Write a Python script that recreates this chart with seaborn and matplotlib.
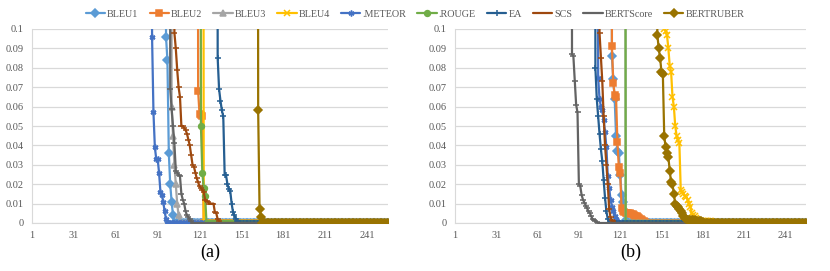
import numpy as np
import pandas as pd
import matplotlib
matplotlib.use("Agg")
import matplotlib.pyplot as plt
import seaborn as sns

N_POINTS = 256
X_TICKS = [1, 31, 61, 91, 121, 151, 181, 211, 241]
Y_TICKS = [0, 0.01, 0.02, 0.03, 0.04, 0.05, 0.06, 0.07, 0.08, 0.09, 0.1]
Y_TICK_LABELS = ["0", "0.01", "0.02", "0.03", "0.04", "0.05", "0.06", "0.07", "0.08", "0.09", "0.1"]

SERIES = ["BLEU1", "BLEU2", "BLEU3", "BLEU4", ".METEOR", ".ROUGE", "EA", "SCS", "BERTScore", "BERTRUBER"]
COLORS = ["#5B9BD5", "#ED7D31", "#A5A5A5", "#FFC000", "#4472C4",
          "#70AD47", "#255E91", "#9E480E", "#636363", "#997300"]
MARKERS = ["D", "s", "^", "x", (6, 2, 0), "o", "+", "_", "_", "D"]

# each series: index of first visible point, visible values (before: off-scale, after: 0)
A_START = [97, 120, 101, 124, 87, 122, 134, 103, 100, 163]
A_BLEU1 = [0.096, 0.084, 0.036, 0.020, 0.011, 0.004]
A_BLEU2 = [0.068, 0.056, 0.0555, 0.055]
A_BLEU3 = [0.060, 0.045, 0.030, 0.020, 0.010, 0.004]
A_BLEU4 = []
A_METEOR = [0.096, 0.057, 0.039, 0.033, 0.033, 0.026, 0.016, 0.0145, 0.011, 0.006, 0.002]
A_ROUGE = [0.050, 0.026, 0.018, 0.014]
A_EA = [0.085, 0.069, 0.063, 0.058, 0.055, 0.025, 0.0245, 0.020, 0.0175, 0.0165,
        0.010, 0.0055, 0.004, 0.002, 0.001]
A_SCS = [0.098, 0.090, 0.079, 0.070, 0.065, 0.050, 0.050, 0.049, 0.048, 0.046,
         0.043, 0.040, 0.035, 0.030, 0.029, 0.026, 0.023, 0.021, 0.019, 0.018,
         0.017, 0.016, 0.012, 0.0115, 0.011, 0.010, 0.010, 0.010, 0.010, 0.0055,
         0.005, 0.002, 0.001]
A_BERTSCORE = [0.069, 0.059, 0.050, 0.041, 0.027, 0.026, 0.025, 0.024, 0.015, 0.012,
               0.010, 0.006, 0.004, 0.003, 0.002, 0.001]
A_BERTRUBER = [0.058, 0.007, 0.003]

B_START = [115, 115, 125, 153, 105, 125, 103, 106, 86, 148]
B_BLEU1 = [0.086, 0.074, 0.064, 0.045, 0.037, 0.036, 0.025, 0.0144, 0.011, 0.006, 0.0017]
B_BLEU2 = [0.091, 0.072, 0.066, 0.065, 0.0415, 0.029, 0.026, 0.0076, 0.006, 0.0055,
           0.0054, 0.0053, 0.005, 0.005, 0.0048, 0.0045, 0.004, 0.0038, 0.0034, 0.003,
           0.0025, 0.002, 0.0015, 0.001, 0.0005]
B_BLEU3 = []
B_BLEU4 = [0.1, 0.099, 0.097, 0.09, 0.081, 0.078, 0.065, 0.06, 0.05, 0.045,
           0.043, 0.041, 0.017, 0.016, 0.015, 0.014, 0.0136, 0.012, 0.01, 0.0085,
           0.005, 0.004, 0.0034, 0.0025, 0.0017, 0.0015, 0.0012, 0.001, 0.001, 0.001,
           0.001, 0.0009, 0.0009, 0.0008, 0.0008, 0.0007, 0.0006, 0.0005]
B_METEOR = [0.075, 0.064, 0.06, 0.058, 0.053, 0.047, 0.039, 0.024, 0.018, 0.012,
            0.0085, 0.006, 0.0034, 0.002, 0.001]
B_ROUGE = []
B_EA = [0.08, 0.064, 0.055, 0.046, 0.038, 0.032, 0.022, 0.013, 0.006, 0.002]
B_SCS = [0.098, 0.085, 0.073, 0.055, 0.040, 0.030, 0.020, 0.007, 0.003, 0.0017, 0.001]
B_BERTSCORE = [0.087, 0.086, 0.073, 0.061, 0.057, 0.020, 0.019, 0.0144, 0.012, 0.0105,
               0.009, 0.0076, 0.006, 0.005, 0.0034, 0.002, 0.0015, 0.001, 0.0005]
B_BERTRUBER = [0.097, 0.09, 0.085, 0.078, 0.077, 0.045, 0.039, 0.036, 0.034, 0.027,
               0.021, 0.020, 0.015, 0.010, 0.009, 0.0085, 0.007, 0.006, 0.005, 0.0034,
               0.0025, 0.002, 0.0017, 0.0017, 0.0016, 0.0015, 0.0014, 0.0013, 0.0012, 0.0011,
               0.001, 0.001, 0.001, 0.0005]

A_VALUES = [A_BLEU1, A_BLEU2, A_BLEU3, A_BLEU4, A_METEOR, A_ROUGE, A_EA, A_SCS, A_BERTSCORE, A_BERTRUBER]
B_VALUES = [B_BLEU1, B_BLEU2, B_BLEU3, B_BLEU4, B_METEOR, B_ROUGE, B_EA, B_SCS, B_BERTSCORE, B_BERTRUBER]

OFF_SCALE = 1.0


# ---------------- BUILD FULL SERIES ----------------
def full_series(start, visible):
    before = [OFF_SCALE] * (start - 1)
    after = [0.0] * (N_POINTS - (start - 1) - len(visible))
    return before + list(visible) + after


# ---------------- DRAW ONE PANEL ----------------
def draw_panel(ax, starts, values, caption):

    x = np.arange(1, N_POINTS + 1)

    for i, name in enumerate(SERIES):
        y = full_series(starts[i], values[i])
        df = pd.DataFrame({"x": x, "y": y})
        sns.lineplot(data=df, x="x", y="y", ax=ax, color=COLORS[i], marker=MARKERS[i],
                     markersize=4.2, markeredgecolor=COLORS[i], markeredgewidth=1.1,
                     linewidth=1.6, label=name, legend=False, zorder=2 + i)

    ax.set_xlim(1, N_POINTS)
    ax.set_ylim(0, 0.1)
    ax.set_xticks(X_TICKS)
    ax.set_yticks(Y_TICKS)
    ax.set_yticklabels(Y_TICK_LABELS)
    ax.set_xlabel("")
    ax.set_ylabel("")
    ax.grid(axis="y", color="#D9D9D9", linewidth=0.9)
    ax.set_axisbelow(True)
    ax.tick_params(axis="both", length=0, labelsize=7.5, colors="#595959", pad=6)

    for side in ["top", "right"]:
        ax.spines[side].set_visible(False)
    ax.spines["left"].set_color("#D9D9D9")
    ax.spines["bottom"].set_color("#D9D9D9")

    ax.text(0.5, -0.15, caption, transform=ax.transAxes, ha="center", va="center",
            fontsize=13, color="black")


sns.set_style("white")
plt.rcParams["font.family"] = ["Liberation Serif", "DejaVu Serif"]

fig = plt.figure(figsize=(8.3, 2.71), dpi=100)
ax_a = fig.add_axes([32 / 830, 1 - 223 / 271, (388 - 32) / 830, (223 - 29) / 271])
ax_b = fig.add_axes([455 / 830, 1 - 223 / 271, (806 - 455) / 830, (223 - 29) / 271])

draw_panel(ax_a, A_START, A_VALUES, "(a)")
draw_panel(ax_b, B_START, B_VALUES, "(b)")

handles, labels = ax_a.get_legend_handles_labels()
fig.legend(handles, labels, loc="center", bbox_to_anchor=(0.5, 1 - 14 / 271), ncol=10,
           frameon=False, fontsize=7.3, labelcolor="#595959", handlelength=1.9,
           handletextpad=0.2, columnspacing=1.1)

fig.savefig("out.png", dpi=100)
plt.close()
